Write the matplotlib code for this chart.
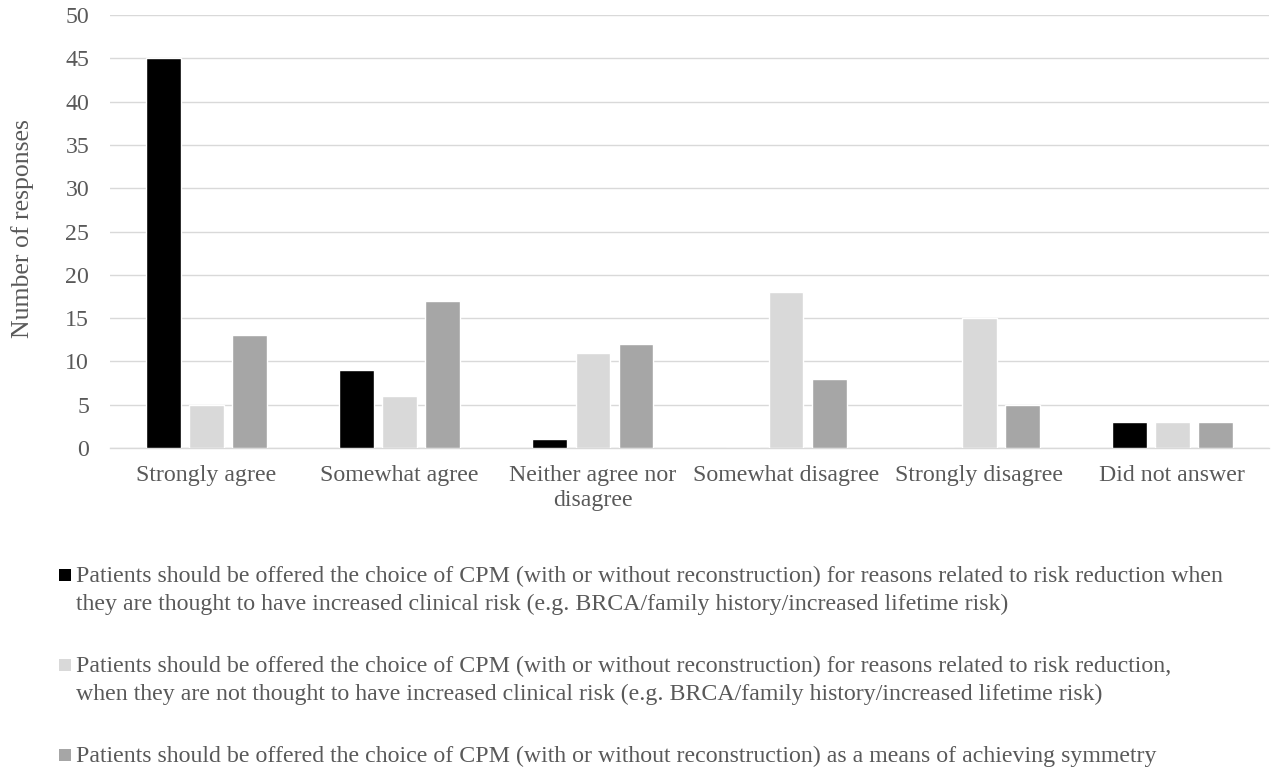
import matplotlib.pyplot as plt
import numpy as np
from matplotlib.patches import Rectangle

categories = ["Strongly agree", "Somewhat agree", "Neither agree nor\ndisagree",
              "Somewhat disagree", "Strongly disagree", "Did not answer"]
increased_risk = [45, 9, 1, 0, 0, 3]
not_increased_risk = [5, 6, 11, 18, 15, 3]
symmetry = [13, 17, 12, 8, 5, 3]
series_labels = [
    ["Patients should be offered the choice of CPM (with or without reconstruction) for reasons related to risk reduction when",
     "they are thought to have increased clinical risk (e.g. BRCA/family history/increased lifetime risk)"],
    ["Patients should be offered the choice of CPM (with or without reconstruction) for reasons related to risk reduction,",
     "when they are not thought to have increased clinical risk (e.g. BRCA/family history/increased lifetime risk)"],
    ["Patients should be offered the choice of CPM (with or without reconstruction) as a means of achieving symmetry"],
]
colors = ["#000000", "#d9d9d9", "#a6a6a6"]
TEXT = "#595959"
W, H = 1278, 771

plt.rcParams["font.family"] = ["Liberation Serif", "DejaVu Serif"]

fig = plt.figure(figsize=(W / 100, H / 100), dpi=100)
ax = fig.add_axes([110 / W, 1 - 448 / H, 1159 / W, 433 / H])

x = np.arange(len(categories))
step = 0.223
for i, (vals, c) in enumerate(zip([increased_risk, not_increased_risk, symmetry], colors)):
    ax.bar(x + (i - 1) * step, vals, width=0.18, color=c, edgecolor="white", linewidth=1.0, zorder=3)

ax.set_xlim(-0.5, len(categories) - 0.5)
ax.set_ylim(0, 50)
ax.set_yticks(np.arange(0, 51, 5))
ax.set_xticks(x)
ax.set_xticklabels(categories, fontsize=17.2, color=TEXT, linespacing=1.3)
ax.tick_params(axis="y", labelsize=17.2, labelcolor=TEXT, length=0, pad=15)
ax.tick_params(axis="x", length=0, pad=12)
ax.grid(axis="y", color="#d9d9d9", linewidth=1.0, zorder=0)
for s in ["top", "right", "left"]:
    ax.spines[s].set_visible(False)
ax.spines["bottom"].set_color("#d9d9d9")
ax.spines["bottom"].set_linewidth(1.0)
ax.set_ylabel("Number of responses", fontsize=18.5, color=TEXT)
ax.yaxis.set_label_coords(34 / W, 1 - 229 / H, transform=fig.transFigure)

# legend drawn by hand so the marker sits on the first text line
baselines = [[582, 610], [672, 700], [762]]
for lines, ys, c in zip(series_labels, baselines, colors):
    fig.patches.append(Rectangle((59 / W, 1 - 581 / H + (582 - ys[0]) / H), 12 / W, 12 / H,
                                 transform=fig.transFigure, facecolor=c, edgecolor="none"))
    for line, y in zip(lines, ys):
        fig.text(76 / W, 1 - y / H, line, fontsize=17.2, color=TEXT, va="baseline", ha="left")

fig.savefig("out.png", dpi=100)
